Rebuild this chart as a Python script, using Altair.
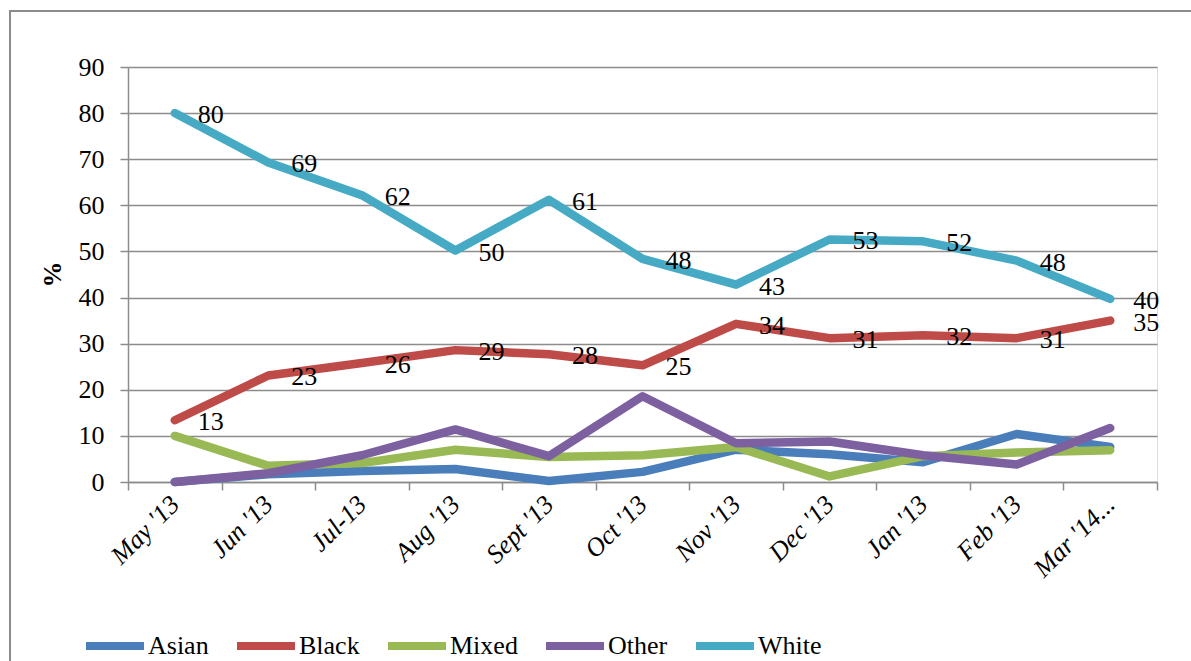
import altair as alt
import pandas as pd

# Survey months (category axis)
months = ["May '13", "Jun '13", "Jul-13", "Aug '13", "Sept '13", "Oct '13",
          "Nov '13", "Dec '13", "Jan '13", "Feb '13", "Mar '14..."]

# Share (%) by ethnic group
asian = [0.0, 1.7, 2.4, 2.8, 0.2, 2.2, 7.0, 6.0, 4.3, 10.4, 7.6]
black = [13.4, 23.1, 25.8, 28.6, 27.7, 25.3, 34.3, 31.2, 31.8, 31.2, 35.0]
mixed = [10.0, 3.5, 4.1, 7.0, 5.4, 5.8, 7.6, 1.2, 5.6, 6.4, 6.9]
other = [0.0, 1.9, 5.8, 11.4, 5.6, 18.6, 8.4, 8.8, 5.8, 3.8, 11.7]
white = [80.0, 69.3, 62.2, 50.2, 61.2, 48.4, 42.8, 52.6, 52.2, 48.0, 39.7]

groups = ["Asian", "Black", "Mixed", "Other", "White"]
colors = ["#4A7EBB", "#BE4B48", "#98B954", "#7D60A0", "#46AAC5"]
labelled = ["Black", "White"]

series = dict(zip(groups, [asian, black, mixed, other, white]))
rows = []
for g, vals in series.items():
    for m, v in zip(months, vals):
        rows.append({"month": m, "group": g, "pct": v})
df = pd.DataFrame(rows)

FONT = "Liberation Serif"
GRID = "#8C8C8C"

x_enc = alt.X(
    "month:N", sort=months, bandPosition=0.5,
    scale=alt.Scale(type="band", paddingInner=0, paddingOuter=0),
    axis=alt.Axis(title=None, labelAngle=-45, labelAlign="right", labelBaseline="middle",
                  labelPadding=10, tickBand="extent", tickSize=8, tickColor=GRID,
                  tickWidth=1.5, domainColor=GRID, domainWidth=1.5, grid=False,
                  labelFont=FONT, labelFontSize=26, labelFontStyle="italic",
                  labelColor="black"),
)
y_enc = alt.Y(
    "pct:Q", scale=alt.Scale(domain=[0, 90], nice=False),
    axis=alt.Axis(title="%", values=list(range(0, 91, 10)), tickSize=8, tickColor=GRID,
                  tickWidth=1.5, domainColor=GRID, domainWidth=1.5, gridColor=GRID,
                  gridWidth=1.5, labelFont=FONT, labelFontSize=26, labelColor="black",
                  labelPadding=16, titleFont=FONT, titleFontSize=26, titleFontWeight="bold",
                  titleColor="black", titleAngle=-90, titleX=-76, titleY=207,
                  titleAlign="center", titleBaseline="middle"),
)

lines = alt.Chart(df).mark_line(strokeWidth=8.5, strokeCap="round", strokeJoin="round").encode(
    x=x_enc,
    y=y_enc,
    color=alt.Color(
        "group:N", sort=groups,
        scale=alt.Scale(domain=groups, range=colors),
        legend=alt.Legend(title=None, orient="none", direction="horizontal",
                          legendX=-46, legendY=546, padding=0, symbolType="stroke",
                          symbolSize=3364, symbolStrokeWidth=8, columnPadding=12,
                          labelOffset=0, labelFont=FONT, labelFontSize=26,
                          labelColor="black"),
    ),
)

labels = alt.Chart(df).transform_filter(
    alt.FieldOneOfPredicate(field="group", oneOf=labelled)
).mark_text(align="left", baseline="middle", dx=23, dy=2, font=FONT, fontSize=26,
            color="black").encode(
    x=alt.X("month:N", sort=months, bandPosition=0.5),
    y="pct:Q",
    text=alt.Text("pct:Q", format=".0f"),
)

# Outer chart-area frame
frame = alt.Chart(df).mark_rect(fill=None, stroke=GRID, strokeWidth=1.5).encode(
    x=alt.value(-118), x2=alt.value(1100), y=alt.value(-56), y2=alt.value(650)
)

chart = alt.layer(frame, lines, labels).properties(
    width=1029, height=415,
    padding={"left": 128, "top": 67, "right": 34, "bottom": 179},
    autosize=alt.AutoSizeParams(type="none"),
).configure_view(stroke=None).configure(background="white")

chart.save("out.html", embed_options={"renderer": "svg", "actions": False})
